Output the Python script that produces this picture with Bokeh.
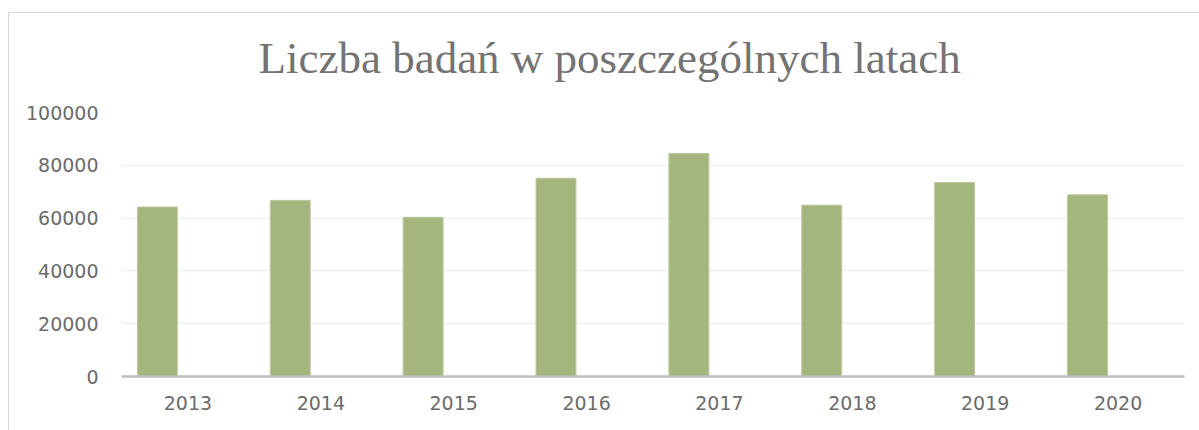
from bokeh.plotting import figure
from bokeh.models import FixedTicker, NumeralTickFormatter
from bokeh.transform import dodge
from bokeh.embed import file_html
from bokeh.resources import INLINE

years = ["2013", "2014", "2015", "2016", "2017", "2018", "2019", "2020"]
counts = [64200, 66700, 60300, 75100, 84500, 64900, 73500, 68800]
y_ticks = [0, 20000, 40000, 60000, 80000, 100000]
title_text = "Liczba badań w poszczególnych latach"

p = figure(x_range=years, y_range=(0, 100000), width=1199, height=430,
           output_backend="svg", toolbar_location=None,
           min_border_left=121, min_border_right=15,
           min_border_top=112, min_border_bottom=54)
# thin light-grey chart-area border (top and left edges) drawn behind a transparent canvas
p.styles = {"background": "linear-gradient(#d9d9d9, #d9d9d9) 8px 12px / 100% 1px no-repeat, "
                          "linear-gradient(#d9d9d9, #d9d9d9) 8px 12px / 1px 100% no-repeat, white"}
p.outline_line_color = None
p.background_fill_color = None
p.border_fill_color = None

p.title.text = title_text
p.title.align = "left"
p.title.offset = 137
p.title.standoff = 59
p.title.text_font = "Liberation Serif"
p.title.text_font_size = "45px"
p.title.text_font_style = "normal"
p.title.text_color = "#737373"

p.vbar(x=dodge("year", -0.23, range=p.x_range), top="count", width=0.3,
       source=dict(year=years, count=counts),
       fill_color="#a5b57e", line_color="#b9c99c", line_width=1)

p.xgrid.grid_line_color = None
p.ygrid.grid_line_color = "#efefef"
p.ygrid.grid_line_width = 1.5

p.yaxis.ticker = FixedTicker(ticks=y_ticks)
p.yaxis.formatter = NumeralTickFormatter(format="0")
p.yaxis.axis_line_color = None
p.yaxis.major_tick_line_color = None
p.yaxis.minor_tick_line_color = None
p.yaxis.major_label_standoff = 17

p.xaxis.axis_line_color = "#bfbfbf"
p.xaxis.axis_line_width = 2.5
p.xaxis.major_tick_line_color = None
p.xaxis.minor_tick_line_color = None
p.xaxis.major_tick_out = 0
p.xaxis.major_label_standoff = 19

for ax in (p.xaxis, p.yaxis):
    ax.major_label_text_font = "DejaVu Sans"
    ax.major_label_text_font_size = "19px"
    ax.major_label_text_color = "#6b6b6b"

open("out.html", "w").write(file_html(p, INLINE))
